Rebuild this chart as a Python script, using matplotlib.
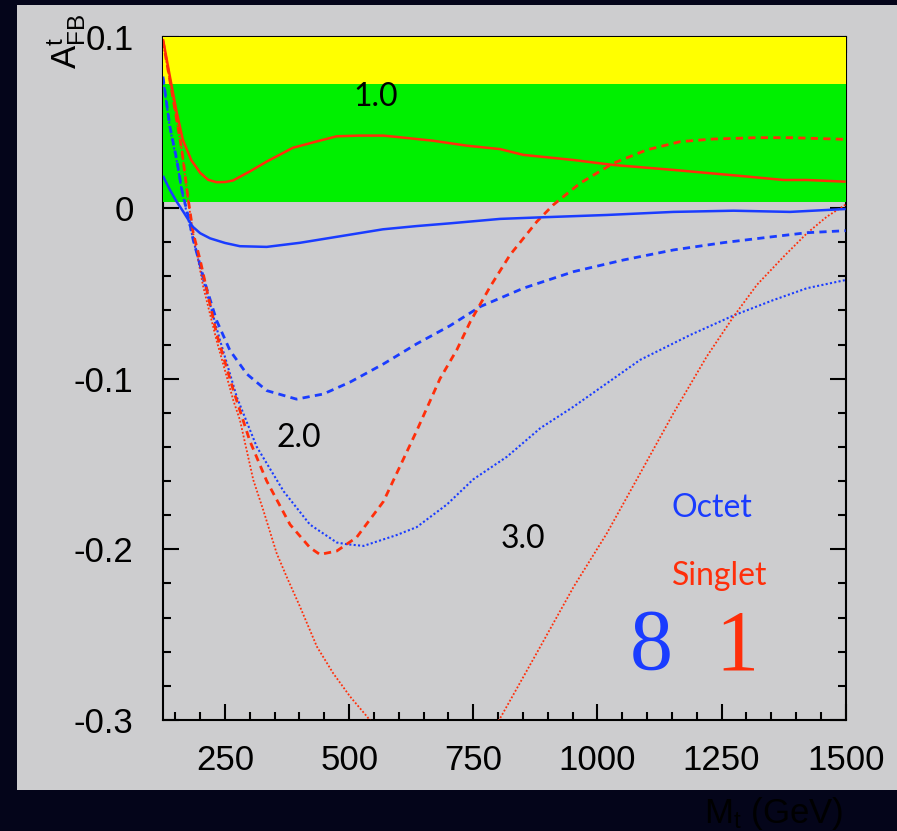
import numpy as np
import matplotlib
matplotlib.use("Agg")
import matplotlib.pyplot as plt
from matplotlib.patches import Rectangle
from matplotlib.ticker import FixedLocator, MultipleLocator

# ── Data: top forward-backward asymmetry vs. axigluon / coloron mass ─────────
# singlet, coupling 1.0
m_s1 = [125, 139, 152, 165, 182, 200, 216, 233, 250, 266, 300, 334, 387, 435,
        475, 520, 569, 603, 669, 737, 804, 851, 952, 1032, 1153, 1287, 1375,
        1422, 1500]
a_s1 = [0.099, 0.077, 0.057, 0.040, 0.028, 0.0206, 0.0165, 0.0151, 0.0152,
        0.0161, 0.0214, 0.0272, 0.0353, 0.039, 0.042, 0.0424, 0.0424, 0.0414,
        0.0394, 0.0365, 0.0345, 0.0311, 0.0281, 0.0252, 0.0223, 0.0188,
        0.0164, 0.0164, 0.0154]

# octet, coupling 1.0
m_o1 = [125, 139, 152, 166, 185, 200, 220, 250, 280, 334, 401, 475, 568, 636,
        703, 804, 885, 1019, 1153, 1274, 1388, 1500]
a_o1 = [0.0188, 0.0106, 0.004, -0.0022, -0.011, -0.0148, -0.0178, -0.0205,
        -0.0224, -0.0228, -0.0204, -0.0169, -0.0125, -0.0106, -0.0090,
        -0.0064, -0.0055, -0.0041, -0.0023, -0.0016, -0.0023, -0.0006]

# octet, coupling 2.0
m_o2 = [125, 139, 153, 163, 176, 186, 210, 233, 260, 294, 334, 394, 448, 502,
        569, 636, 703, 764, 851, 952, 1052, 1153, 1254, 1354, 1422, 1500]
a_o2 = [0.077, 0.0476, 0.028, 0.0105, -0.005, -0.0188, -0.0443, -0.0659,
        -0.0835, -0.0973, -0.107, -0.112, -0.109, -0.102, -0.0914, -0.0796,
        -0.069, -0.0578, -0.047, -0.0373, -0.0305, -0.0246, -0.0203, -0.0168,
        -0.0145, -0.0133]

# octet, coupling 3.0
m_o3 = [125, 139, 153, 163, 173, 206, 240, 274, 314, 368, 421, 475, 495, 529,
        596, 636, 697, 750, 818, 885, 952, 1019, 1086, 1187, 1274, 1354, 1422,
        1500]
a_o3 = [0.076, 0.047, 0.027, 0.010, -0.003, -0.042, -0.0776, -0.111, -0.140,
        -0.166, -0.1855, -0.196, -0.197, -0.198, -0.1916, -0.187, -0.1737,
        -0.159, -0.1457, -0.129, -0.1164, -0.1027, -0.089, -0.0744, -0.0630,
        -0.054, -0.047, -0.0422]

# singlet, coupling 2.0
m_s2 = [125, 146, 163, 176, 186, 200, 233, 267, 300, 334, 381, 421, 441, 475,
        515, 569, 636, 683, 717, 744, 784, 824, 878, 911, 965, 1032, 1099,
        1167, 1234, 1321, 1388, 1500]
a_s2 = [0.098, 0.063, 0.034, 0.0047, -0.0148, -0.0306, -0.0737, -0.107,
        -0.1365, -0.16, -0.1855, -0.199, -0.203, -0.201, -0.193, -0.172,
        -0.1306, -0.100, -0.083, -0.0666, -0.0461, -0.0275, -0.008, 0.0018,
        0.0145, 0.0262, 0.034, 0.0389, 0.0404, 0.0412, 0.0412, 0.0402]

# singlet, coupling 3.0 (dips below the plotted range)
m_s3 = [125, 146, 163, 176, 186, 206, 233, 267, 280, 307, 327, 354, 374, 401,
        435, 468, 502, 536, 600, 670, 740, 804, 885, 952, 1019, 1086, 1153,
        1220, 1274, 1321, 1375, 1422, 1462, 1500]
a_s3 = [0.097, 0.063, 0.034, 0.004, -0.015, -0.046, -0.0776, -0.113, -0.1242,
        -0.1594, -0.177, -0.2023, -0.216, -0.2336, -0.257, -0.2727, -0.2863,
        -0.298, -0.322, -0.338, -0.328, -0.299, -0.257, -0.222, -0.1906,
        -0.1555, -0.1203, -0.0871, -0.0637, -0.0451, -0.0285, -0.0148,
        -0.0051, 0.002]

# measured band (1 sigma green, 2 sigma yellow)
band_green = (0.0037, 0.0725)
band_yellow = (0.0725, 0.100)

x_ticks = [250, 500, 750, 1000, 1250, 1500]
y_ticks = [0.1, 0.0, -0.1, -0.2, -0.3]
y_tick_labels = ["0.1", "0", "-0.1", "-0.2", "-0.3"]

# ── Style ─────────────────────────────────────────────────────────────────
plt.rcParams["axes.unicode_minus"] = False
plt.rcParams["mathtext.fontset"] = "custom"
plt.rcParams["mathtext.rm"] = "Liberation Sans"
plt.rcParams["mathtext.it"] = "Liberation Sans"

BLUE = "#1a3cff"
RED = "#ff2e0a"
GRAY = "#cdcdcf"
BG = "#04051a"

W, H = 897, 831
fig = plt.figure(figsize=(W / 100, H / 100), dpi=100, facecolor=BG)

# light slide panel behind the plot
fig.patches.append(Rectangle((17 / W, 1 - 790 / H), 1 - 17 / W, (790 - 5) / H,
                             transform=fig.transFigure, facecolor=GRAY,
                             edgecolor="none", zorder=-5))

ax = fig.add_axes([162.7 / W, 1 - 720 / H, (845.7 - 162.7) / W,
                   (720 - 37.3) / H])
ax.set_zorder(1)
ax.patch.set_alpha(0)
ax.set_xlim(124.5, 1500)
ax.set_ylim(-0.3, 0.1)

ax.axhspan(*band_yellow, color="#ffff00", lw=0, zorder=2.6)
ax.axhspan(*band_green, color="#00f000", lw=0, zorder=2.6)

solid = dict(lw=1.8, solid_capstyle="butt", zorder=4)
dashed = dict(lw=2.0, ls=(0, (2.6, 1.9)), zorder=4)
dotted = dict(lw=1.5, ls=(0, (1, 1.1)), zorder=4)

ax.plot(m_o3, a_o3, color=BLUE, **dotted)
ax.plot(m_s3, a_s3, color=RED, **dict(dotted, lw=1.3))
ax.plot(m_o2, a_o2, color=BLUE, **dashed)
ax.plot(m_s2, a_s2, color=RED, **dashed)
ax.plot(m_o1, a_o1, color=BLUE, **solid)
ax.plot(m_s1, a_s1, color=RED, **solid)

# ── Axes / ticks ─────────────────────────────────────────────────────────
for sp in ax.spines.values():
    sp.set_linewidth(1.5)
ax.xaxis.set_major_locator(FixedLocator(x_ticks))
ax.xaxis.set_minor_locator(MultipleLocator(50))
ax.yaxis.set_major_locator(FixedLocator(y_ticks))
ax.yaxis.set_minor_locator(MultipleLocator(0.02))
ax.set_xticklabels([str(t) for t in x_ticks])
ax.set_yticklabels(y_tick_labels)
ax.tick_params(which="both", direction="in", top=True, right=True, width=1.5,
               colors="black")
ax.tick_params(which="major", length=11.5)
ax.tick_params(which="minor", length=5.8)
ax.tick_params(axis="x", which="major", pad=17)
ax.tick_params(axis="y", which="major", pad=21)
for lab in ax.get_xticklabels() + ax.get_yticklabels():
    lab.set_fontfamily("Liberation Sans")
    lab.set_fontsize(25)

# curve labels
lbl = dict(fontfamily="Lato", fontsize=23, color="black", ha="center",
           va="center", zorder=5)
ax.text(553, 0.0652, "1.0", **lbl)
ax.text(399, -0.1345, "2.0", **lbl)
ax.text(850, -0.194, "3.0", **lbl)

ax.text(1150, -0.181, "Octet", fontfamily="Lato", fontsize=23, color=BLUE,
        ha="left", va="baseline")
ax.text(1150, -0.2209, "Singlet", fontfamily="Lato", fontsize=23, color=RED,
        ha="left", va="baseline")
ax.text(1108, -0.2701, "8", fontfamily="Liberation Serif", fontsize=62,
        color=BLUE, ha="center", va="baseline")
ax.text(1280, -0.2707, "1", fontfamily="Liberation Serif", fontsize=62,
        color=RED, ha="center", va="baseline")

# axis titles
fig.text(67 / W, 1 - 41 / H, r"$\mathrm{A}^{\mathrm{t}}_{\mathrm{FB}}$",
         rotation=90, ha="center", va="center", fontsize=25, color="black")
fig.text(843 / W, 1 - 823 / H, r"M$_{\mathrm{t}}$ (GeV)",
         fontfamily="Liberation Sans", fontsize=25, color="black",
         ha="right", va="baseline")

fig.savefig("out.png", dpi=100, facecolor=BG)
